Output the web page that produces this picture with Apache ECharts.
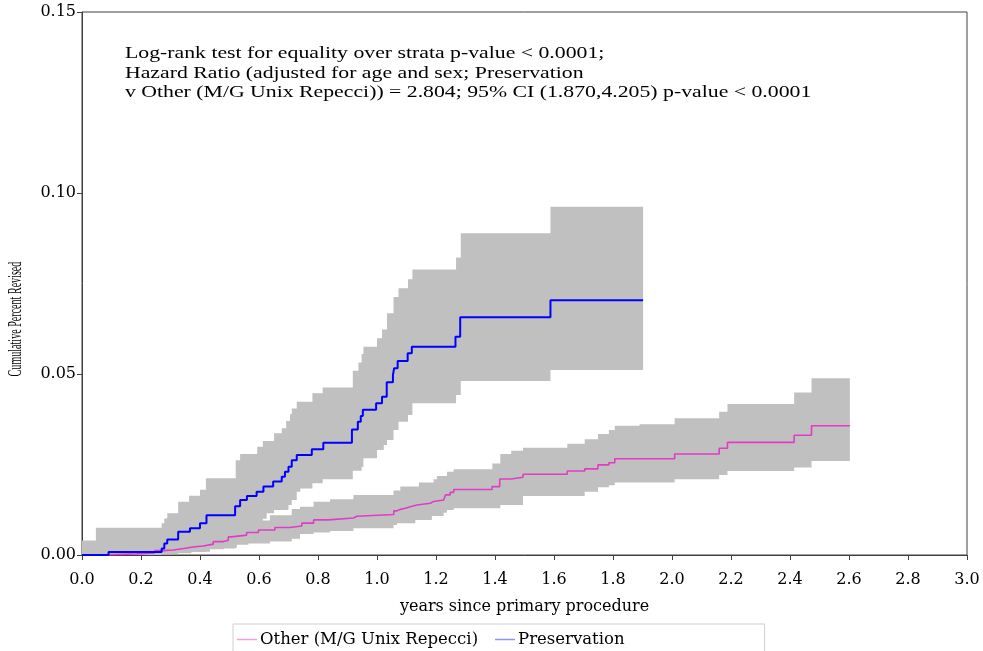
<!DOCTYPE html>
<html>
<head>
<meta charset="utf-8">
<script src="https://cdn.jsdelivr.net/npm/echarts@6/dist/echarts.min.js"></script>
<style>
html,body{margin:0;padding:0;background:#fff;}
#chart{width:983px;height:651px;}
</style>
</head>
<body>
<div id="chart"></div>
<script>
// ---- Data ----
const annotationLines = [
  'Log-rank test for equality over strata p-value < 0.0001;',
  'Hazard Ratio (adjusted for age and sex; Preservation',
  'v Other (M/G Unix Repecci)) = 2.804; 95% CI (1.870,4.205) p-value < 0.0001'
];
const xTitle = 'years since primary procedure';
const yTitle = 'Cumulative Percent Revised';
const seriesNames = ['Other (M/G Unix Repecci)', 'Preservation'];

// Preservation: estimate
const presTime = [0, 0.09, 0.270, 0.279, 0.289, 0.326, 0.366, 0.40, 0.422, 0.519, 0.536, 0.559, 0.592, 0.615, 0.648, 0.677, 0.688, 0.70, 0.711, 0.728, 0.779, 0.818, 0.915, 0.935, 0.945, 0.952, 0.997, 1.017, 1.033, 1.054, 1.058, 1.070, 1.104, 1.118, 1.266, 1.282, 1.588, 1.902];
const presEst  = [0, 0.0008, 0.0018, 0.0032, 0.0043, 0.0064, 0.0074, 0.0088, 0.0110, 0.0135, 0.0152, 0.0163, 0.0175, 0.0189, 0.0203, 0.0216, 0.0230, 0.0244, 0.0262, 0.0276, 0.0292, 0.0310, 0.0347, 0.0368, 0.0384, 0.0401, 0.0419, 0.0437, 0.0477, 0.0497, 0.0516, 0.0536, 0.0557, 0.0575, 0.0603, 0.0657, 0.0704, 0.0704];
// Preservation: 95% band
const presBandTime = [0, 0.047, 0.27, 0.279, 0.289, 0.326, 0.363, 0.40, 0.42, 0.521, 0.536, 0.556, 0.594, 0.613, 0.626, 0.651, 0.677, 0.692, 0.700, 0.705, 0.711, 0.728, 0.74, 0.781, 0.816, 0.918, 0.937, 0.948, 0.954, 1.0, 1.017, 1.023, 1.034, 1.056, 1.073, 1.105, 1.12, 1.268, 1.284, 1.588, 1.902];
const presLower = [0, 0, 0.0002, 0.0002, 0.0002, 0.0008, 0.0008, 0.0008, 0.0018, 0.0035, 0.0035, 0.0055, 0.0080, 0.0100, 0.0115, 0.0124, 0.0124, 0.0124, 0.0138, 0.0138, 0.0152, 0.0175, 0.0184, 0.0198, 0.0209, 0.0233, 0.0233, 0.0244, 0.0267, 0.0290, 0.0290, 0.0304, 0.0318, 0.0345, 0.0368, 0.0387, 0.0419, 0.0442, 0.0481, 0.0511, 0.0511];
const presUpper = [0.004, 0.0075, 0.0088, 0.0101, 0.0115, 0.0147, 0.0164, 0.0180, 0.0212, 0.0262, 0.0279, 0.0279, 0.0299, 0.0315, 0.0315, 0.0336, 0.0350, 0.0370, 0.0370, 0.0389, 0.0405, 0.0423, 0.0423, 0.0447, 0.0463, 0.0509, 0.0532, 0.0555, 0.0575, 0.0599, 0.0623, 0.0623, 0.0668, 0.0713, 0.0737, 0.0762, 0.0789, 0.0822, 0.0889, 0.0962, 0.0962];

// Other (M/G Unix Repecci): estimate
const otherTime = [0, 0.06, 0.185, 0.247, 0.276, 0.309, 0.345, 0.377, 0.411, 0.445, 0.479, 0.496, 0.507, 0.558, 0.598, 0.654, 0.705, 0.745, 0.785, 0.835, 0.92, 0.932, 1.057, 1.068, 1.079, 1.096, 1.113, 1.135, 1.181, 1.192, 1.226, 1.232, 1.248, 1.26, 1.39, 1.416, 1.455, 1.495, 1.645, 1.704, 1.749, 1.786, 1.806, 2.009, 2.160, 2.188, 2.414, 2.473, 2.603];
const otherEst  = [0, 0.0003, 0.0006, 0.0012, 0.0014, 0.0018, 0.0022, 0.0025, 0.0030, 0.0037, 0.0041, 0.0050, 0.0055, 0.0062, 0.0069, 0.0076, 0.0080, 0.0088, 0.0097, 0.0102, 0.0107, 0.0112, 0.0122, 0.0126, 0.0129, 0.0133, 0.0138, 0.0143, 0.0148, 0.0152, 0.0157, 0.0166, 0.0173, 0.0181, 0.0189, 0.0210, 0.0215, 0.0223, 0.0232, 0.0238, 0.0249, 0.0255, 0.0266, 0.0279, 0.0295, 0.0311, 0.0331, 0.0357, 0.0357];
// Other: 95% band
const otherBandTime = [0, 0.247, 0.304, 0.371, 0.434, 0.481, 0.525, 0.564, 0.637, 0.711, 0.739, 0.785, 0.841, 0.92, 1.056, 1.068, 1.079, 1.13, 1.142, 1.186, 1.192, 1.203, 1.226, 1.237, 1.26, 1.391, 1.418, 1.455, 1.495, 1.645, 1.704, 1.749, 1.786, 1.806, 1.89, 2.009, 2.160, 2.188, 2.414, 2.473, 2.603];
const otherLower = [0, 0.0002, 0.0005, 0.0009, 0.0016, 0.0020, 0.0028, 0.0032, 0.0037, 0.0045, 0.0058, 0.0062, 0.0066, 0.0074, 0.0083, 0.0088, 0.0088, 0.0097, 0.0097, 0.0108, 0.0108, 0.0108, 0.0117, 0.0124, 0.0129, 0.0129, 0.0138, 0.0138, 0.0163, 0.0163, 0.0175, 0.0187, 0.0193, 0.0200, 0.0200, 0.0209, 0.0221, 0.0232, 0.0242, 0.0260, 0.0260];
const otherUpper = [0.0015, 0.0030, 0.0038, 0.0048, 0.0058, 0.0070, 0.0085, 0.0095, 0.0110, 0.0127, 0.0133, 0.0147, 0.0154, 0.0166, 0.0178, 0.0178, 0.0189, 0.0189, 0.0200, 0.0200, 0.0209, 0.0218, 0.0218, 0.0230, 0.0237, 0.0253, 0.0279, 0.0288, 0.0296, 0.0307, 0.0320, 0.0334, 0.0345, 0.0357, 0.0361, 0.0378, 0.0396, 0.0417, 0.0449, 0.0488, 0.0488];

// ---- Build ----
const pair = (t, v) => t.map((x, i) => [x, v[i]]);

const BAND = '#c0c0c0';
const BLUE = '#0000ff';
const PINK = '#e03cc6';
const AXIS = '#404040';
const SERIF = '"DejaVu Serif", serif';
const TIMES = '"Liberation Serif", "Times New Roman", serif';

// Step-shaped confidence band drawn as one polygon, positioned through the axes (api.coord)
function bandSeries(id, t, lo, hi) {
  const rows = t.map((x, i) => [x, lo[i], hi[i]]);
  return {
    name: id, type: 'custom', coordinateSystem: 'cartesian2d', silent: true, z: 1, clip: true,
    data: rows.slice(0, 1),
    encode: { x: 0, y: [1, 2] },
    renderItem: function (params, api) {
      const pts = [];
      for (let i = 0; i < rows.length; i++) {
        pts.push(api.coord([rows[i][0], rows[i][2]]));
        if (i < rows.length - 1) pts.push(api.coord([rows[i + 1][0], rows[i][2]]));
      }
      for (let i = rows.length - 1; i >= 0; i--) {
        if (i < rows.length - 1) pts.push(api.coord([rows[i + 1][0], rows[i][1]]));
        pts.push(api.coord([rows[i][0], rows[i][1]]));
      }
      return { type: 'polygon', shape: { points: pts }, style: { fill: BAND, stroke: null } };
    }
  };
}

const chart = echarts.init(document.getElementById('chart'), null, { renderer: 'canvas' });
chart.setOption({
  animation: false,
  backgroundColor: '#fff',
  grid: { left: 82, right: 16, top: 12, bottom: 96, show: true, borderColor: AXIS, borderWidth: 1, backgroundColor: 'transparent' },
  xAxis: {
    type: 'value', min: 0, max: 3.0, interval: 0.2,
    name: xTitle, nameLocation: 'middle', nameGap: 44,
    nameTextStyle: { fontFamily: SERIF, fontSize: 16, color: '#000' },
    axisLine: { show: true, lineStyle: { color: AXIS, width: 1 } },
    axisTick: { show: true, inside: false, length: 5, lineStyle: { color: AXIS } },
    axisLabel: { fontFamily: SERIF, fontSize: 16, color: '#000', margin: 17, formatter: v => v.toFixed(1) },
    splitLine: { show: false }
  },
  yAxis: {
    type: 'value', min: 0, max: 0.15, interval: 0.05,
    axisLine: { show: true, lineStyle: { color: AXIS, width: 1 } },
    axisTick: { show: true, inside: false, length: 5, lineStyle: { color: AXIS } },
    axisLabel: { fontFamily: SERIF, fontSize: 16, color: '#000', margin: 6, formatter: v => v.toFixed(2) },
    splitLine: { show: false }
  },
  legend: {
    data: [
      { name: seriesNames[0], itemStyle: { color: '#f0a0e4' }, lineStyle: { color: '#f0a0e4', width: 2 } },
      { name: seriesNames[1], itemStyle: { color: '#9090ff' }, lineStyle: { color: '#9090ff', width: 2 } }
    ],
    left: 233, top: 624,
    orient: 'horizontal',
    itemWidth: 20, itemHeight: 14, itemGap: 17,
    padding: [7, 140, 20, 4],
    borderColor: '#d0d0d0', borderWidth: 1,
    icon: 'path://M0,0 L20,0 L20,1.5 L0,1.5 Z',
    textStyle: { fontFamily: SERIF, fontSize: 16.5, color: '#000', padding: [0, 0, 0, -2] }
  },
  graphic: [
    { type: 'text', x: 125, y: 44, scaleX: 1.28, z: 10,
      style: { text: annotationLines.join('\n'), font: '17px ' + TIMES, fill: '#000', lineHeight: 19.5, textAlign: 'left', textVerticalAlign: 'top' } },
    { type: 'text', x: 16, y: 319, rotation: Math.PI / 2, scaleX: 0.56, z: 10,
      style: { text: yTitle, font: '18px ' + TIMES, fill: '#000', textAlign: 'center', textVerticalAlign: 'middle' } }
  ],
  series: [
    bandSeries('presCI', presBandTime, presLower, presUpper),
    bandSeries('otherCI', otherBandTime, otherLower, otherUpper),
    { name: seriesNames[0], type: 'line', step: 'end', data: pair(otherTime, otherEst), symbol: 'none',
      lineStyle: { color: PINK, width: 1.6 }, itemStyle: { color: PINK }, z: 3 },
    { name: seriesNames[1], type: 'line', step: 'end', data: pair(presTime, presEst), symbol: 'none',
      lineStyle: { color: BLUE, width: 2 }, itemStyle: { color: BLUE }, z: 4 }
  ]
});
</script>
</body>
</html>
